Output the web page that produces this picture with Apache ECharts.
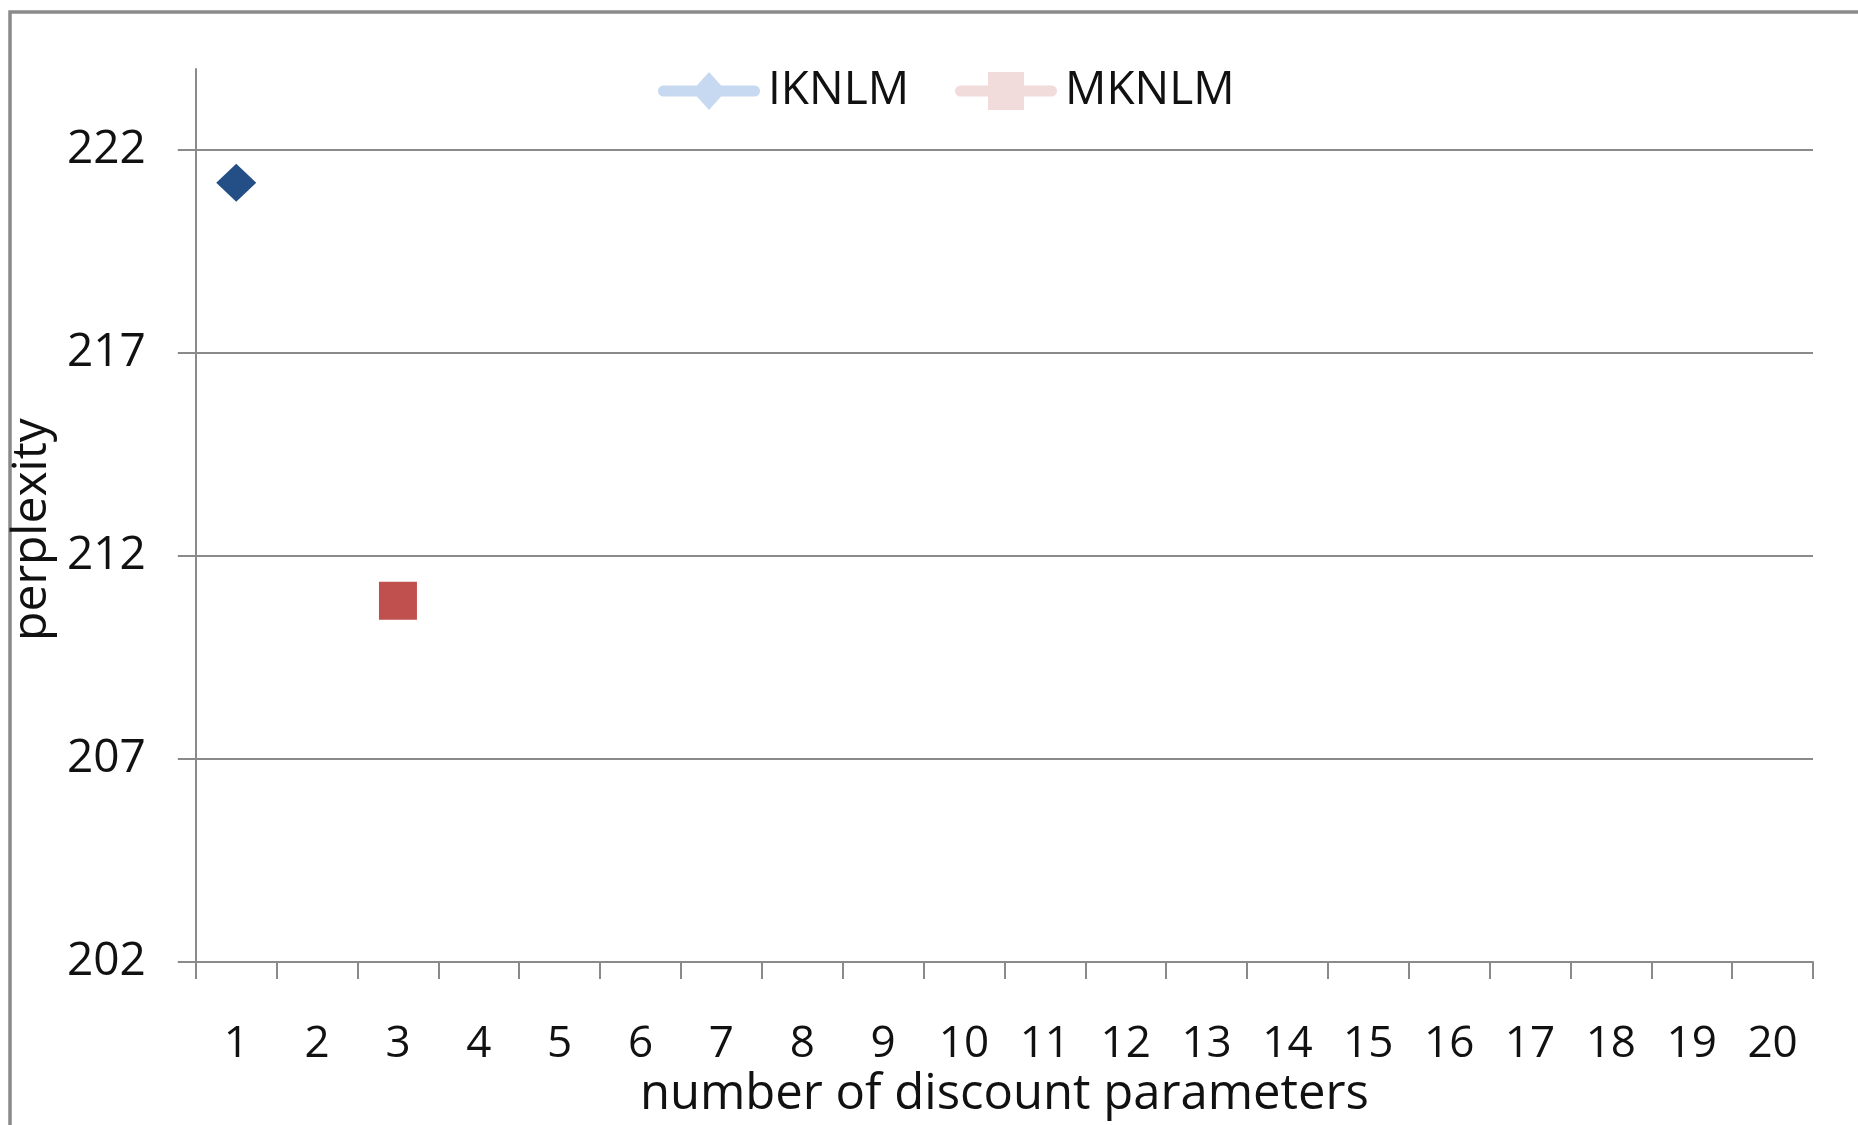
<!DOCTYPE html>
<html>
<head>
<meta charset="utf-8">
<title>perplexity vs number of discount parameters</title>
<script src="https://cdn.jsdelivr.net/npm/echarts@6/dist/echarts.min.js"></script>
<style>
  html, body { margin: 0; padding: 0; background: #ffffff; }
  #chart { width: 1858px; height: 1125px; }
</style>
</head>
<body>
<div id="chart"></div>
<script>
// Categories: number of discount parameters
const categories = ['1','2','3','4','5','6','7','8','9','10','11','12','13','14','15','16','17','18','19','20'];
// Perplexity per setting (only measured points are filled)
const iknlmValues = [221.2, null, null, null, null, null, null, null, null, null, null, null, null, null, null, null, null, null, null, null];
const mknlmValues = [null, null, 210.9, null, null, null, null, null, null, null, null, null, null, null, null, null, null, null, null, null];
// Y-axis tick values
const yTicks = [202, 207, 212, 217, 222];

const FONT = '"Open Sans", "Noto Sans", sans-serif';
const GRAY = '#8a8a8a';

// Legend glyphs: a rounded line stroke with the series marker on top
const LINE_PATH = 'M5.5 13.5 H96.5 A5.5 5.5 0 0 1 96.5 24.5 H5.5 A5.5 5.5 0 0 1 5.5 13.5 Z';
const ICON_IKNLM = 'path://' + LINE_PATH + ' M51 0 L68 19 L51 38 L34 19 Z';
const ICON_MKNLM = 'path://' + LINE_PATH + ' M33 0 H69 V38 H33 Z';

const chart = echarts.init(document.getElementById('chart'), null, { renderer: 'canvas' });

chart.setOption({
  backgroundColor: '#ffffff',
  animation: false,
  textStyle: { fontFamily: FONT, color: '#111' },
  graphic: [{
    type: 'rect',
    shape: { x: 10, y: 12, width: 1900, height: 1200 },
    style: { fill: 'none', stroke: '#8a8a8a', lineWidth: 3.5 },
    silent: true,
    z: -10
  }],
  legend: {
    left: 653,
    top: 63,
    itemWidth: 102,
    itemHeight: 38,
    itemGap: 46,
    textStyle: { fontFamily: FONT, fontSize: 46, color: '#111', padding: [0, 0, 0, 3] },
    data: [
      { name: 'IKNLM', icon: ICON_IKNLM, itemStyle: { color: '#c6d9f1' } },
      { name: 'MKNLM', icon: ICON_MKNLM, itemStyle: { color: '#f2dcdb' } }
    ]
  },
  grid: { left: 195, right: 45, top: 69, bottom: 161, containLabel: false },
  xAxis: {
    type: 'category',
    data: categories,
    boundaryGap: true,
    name: 'number of discount parameters',
    nameLocation: 'middle',
    nameGap: 104,
    nameTextStyle: { fontFamily: FONT, fontSize: 49, color: '#111' },
    axisLine: { show: true, lineStyle: { color: GRAY, width: 2 } },
    axisTick: { show: true, length: 17, lineStyle: { color: GRAY, width: 2 } },
    axisLabel: { fontFamily: FONT, fontSize: 44, color: '#111', margin: 60, interval: 0 },
    splitLine: { show: false }
  },
  yAxis: {
    type: 'value',
    min: 202,
    max: 224,
    interval: 5,
    name: 'perplexity',
    nameLocation: 'middle',
    nameGap: 130,
    nameRotate: 90,
    nameTextStyle: { fontFamily: FONT, fontSize: 48, color: '#111', padding: [0, 28, 0, 0] },
    axisLine: { show: true, lineStyle: { color: GRAY, width: 2 } },
    axisTick: { show: true, length: 18, customValues: yTicks, lineStyle: { color: GRAY, width: 2 } },
    axisLabel: { fontFamily: FONT, fontSize: 46, color: '#111', margin: 50, customValues: yTicks },
    splitLine: { show: true, lineStyle: { color: GRAY, width: 2 } }
  },
  series: [
    {
      name: 'IKNLM',
      type: 'line',
      data: iknlmValues,
      symbol: 'diamond',
      symbolSize: [40, 38],
      showAllSymbol: true,
      itemStyle: { color: '#234e86' },
      lineStyle: { color: '#c6d9f1', width: 8 },
      connectNulls: false
    },
    {
      name: 'MKNLM',
      type: 'line',
      data: mknlmValues,
      symbol: 'rect',
      symbolSize: 38,
      showAllSymbol: true,
      itemStyle: { color: '#c0504d' },
      lineStyle: { color: '#f2dcdb', width: 8 },
      connectNulls: false
    }
  ]
});
</script>
</body>
</html>
